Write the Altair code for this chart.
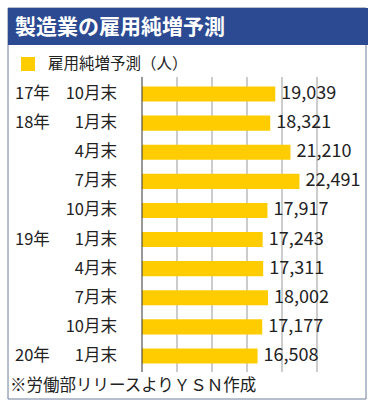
import altair as alt
import pandas as pd

years = ["17年", "18年", "", "", "", "19年", "", "", "", "20年"]
months = ["10月末", "1月末", "4月末", "7月末", "10月末", "1月末", "4月末", "7月末", "10月末", "1月末"]
keys = ["2017-10", "2018-01", "2018-04", "2018-07", "2018-10",
        "2019-01", "2019-04", "2019-07", "2019-10", "2020-01"]
values = [19039, 18321, 21210, 22491, 17917, 17243, 17311, 18002, 17177, 16508]
grid_ticks = [5000, 10000, 15000, 20000, 25000]

title_text = "製造業の雇用純増予測"
legend_text = "雇用純増予測（人）"
footer_text = "※労働部リリースよりＹＳＮ作成"

FONT = "Noto Sans CJK JP"
BLUE = "#2c4a92"
YELLOW = "#ffcc00"

df = pd.DataFrame({"key": keys, "year": years, "month": months, "value": values})
grid_df = pd.DataFrame({"g": grid_ticks})

xscale = alt.Scale(domain=[0, 25000], nice=False)
noaxis = None

yenc = alt.Y("key:N", sort=keys,
             scale=alt.Scale(paddingInner=0.48, paddingOuter=0.29),
             axis=noaxis)
xenc = alt.X("value:Q", scale=xscale, axis=noaxis)

base = alt.Chart(df)

grid = alt.Chart(grid_df).mark_rule(color="#999999", strokeWidth=1).encode(
    x=alt.X("g:Q", scale=xscale, axis=noaxis),
    y=alt.value(-1), y2=alt.value(294))

bars = base.mark_bar(color=YELLOW).encode(x=xenc, y=yenc)

zero_line = alt.Chart(alt.Data(values=[{"z": 0}])).mark_rule(
    color="#333333", strokeWidth=1).encode(x=alt.X("z:Q", scale=xscale, axis=noaxis),
                                           y=alt.value(-1), y2=alt.value(294))

vals = base.mark_text(align="left", baseline="middle", dx=6, fontSize=18,
                      font=FONT, color="#222222").encode(
    x=alt.X("value:Q", axis=noaxis), y=alt.Y("key:N", sort=keys, axis=noaxis),
    text=alt.Text("value:Q", format=","))

month_lbl = base.mark_text(align="right", baseline="middle", fontSize=16.5,
                           font=FONT, color="#222222").encode(
    x=alt.value(-25), y=alt.Y("key:N", sort=keys, axis=noaxis), text="month:N")

year_lbl = base.mark_text(align="left", baseline="middle", fontSize=16.5,
                          font=FONT, color="#222222").encode(
    x=alt.value(-127), y=alt.Y("key:N", sort=keys, axis=noaxis), text="year:N")

one = alt.Data(values=[{}])

frame = alt.Chart(one).mark_rect(fill="transparent", stroke="#6f7d9c", strokeWidth=1).encode(
    x=alt.value(-134), x2=alt.value(224), y=alt.value(-70), y2=alt.value(321))

title_bar = alt.Chart(one).mark_rect(fill=BLUE).encode(
    x=alt.value(-134), x2=alt.value(226), y=alt.value(-70), y2=alt.value(-33))

title = alt.Chart(one).mark_text(align="left", baseline="middle", fontSize=21,
                                 fontWeight="bold", font=FONT, color="white").encode(
    x=alt.value(-127), y=alt.value(-50), text=alt.value(title_text))

legend_sq = alt.Chart(one).mark_rect(fill=YELLOW).encode(
    x=alt.value(-121), x2=alt.value(-107), y=alt.value(-21), y2=alt.value(-7))

legend_lbl = alt.Chart(one).mark_text(align="left", baseline="middle", fontSize=15.5,
                                      font=FONT, color="#222222").encode(
    x=alt.value(-94), y=alt.value(-14.5), text=alt.value(legend_text))

footer = alt.Chart(one).mark_text(align="left", baseline="middle", fontSize=16.5,
                                  font=FONT, color="#222222").encode(
    x=alt.value(-132), y=alt.value(308), text=alt.value(footer_text))

chart = alt.layer(frame, title_bar, title, legend_sq, legend_lbl, grid,
                  bars, zero_line, vals, month_lbl, year_lbl, footer).properties(
    width=175, height=294,
    autosize=alt.AutoSizeParams(type="none"),
    padding={"left": 142, "top": 78, "right": 60, "bottom": 30},
    background="white",
).configure_view(stroke=None)

chart.save("out.html", embed_options={"renderer": "svg", "actions": False})
